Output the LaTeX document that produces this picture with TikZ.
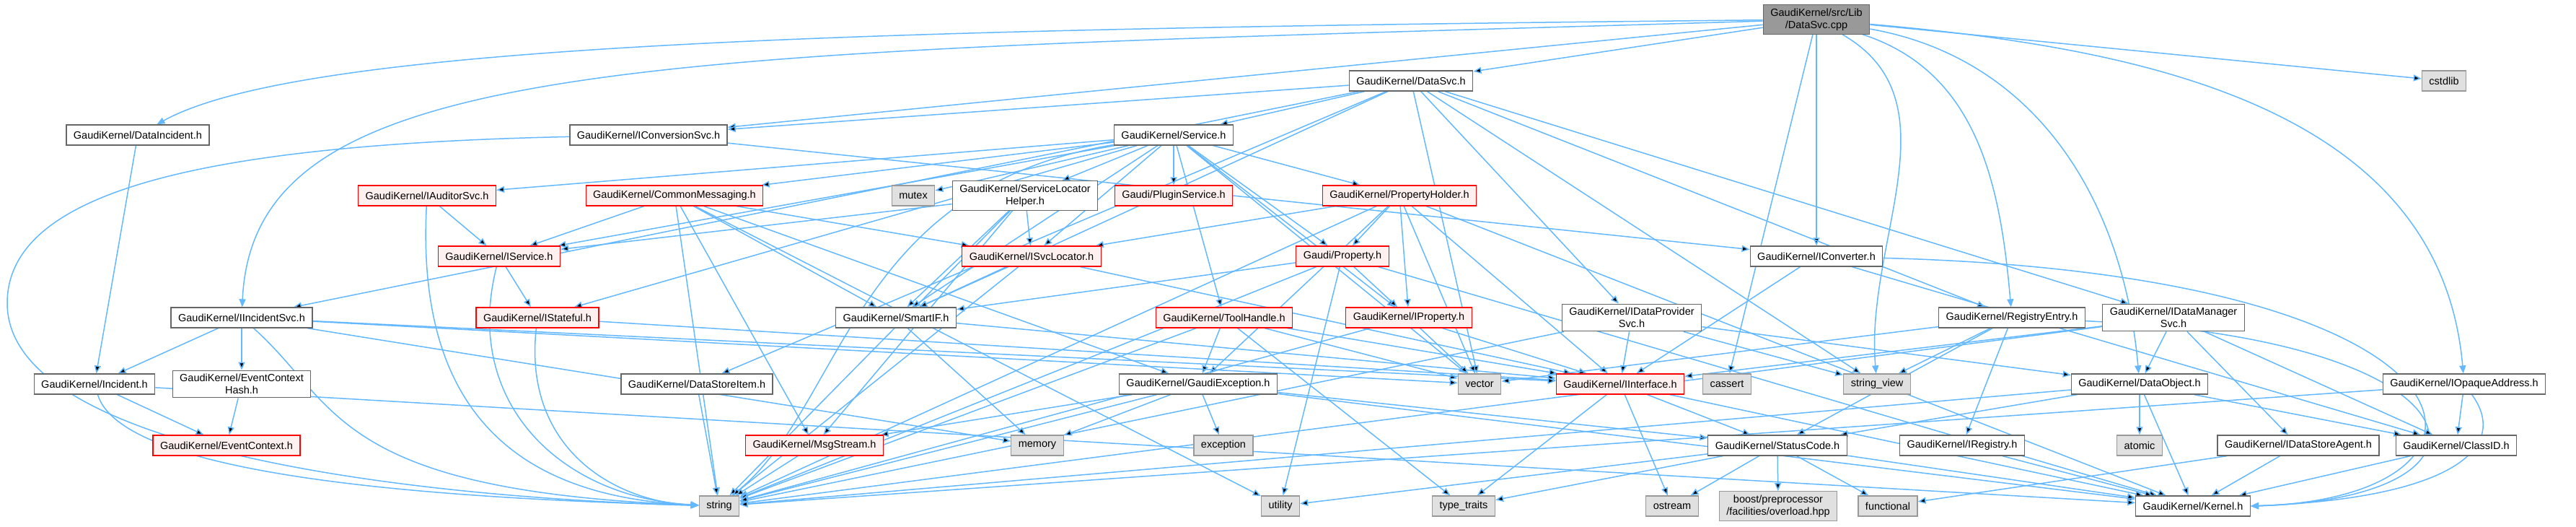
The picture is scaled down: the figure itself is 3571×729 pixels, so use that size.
\documentclass[tikz,border=0pt]{standalone}
\usepackage{fontspec}
\setmainfont{Liberation Sans}
\usepackage{tikz}
\usetikzlibrary{arrows.meta, backgrounds}
\definecolor{edgeblue}{HTML}{63B8FF}
\definecolor{docgray}{HTML}{666666}
\definecolor{sysgray}{HTML}{999999}
\definecolor{sysfill}{HTML}{E0E0E0}
\definecolor{trunkfill}{HTML}{FFF0F0}
\definecolor{rootfill}{HTML}{999999}
\tikzset{
  hfile/.style={draw=docgray, fill=white, line width=1.3pt, inner xsep=10pt, inner ysep=5pt,
                minimum height=28pt, align=center},
  hfilered/.style={hfile, draw=red, fill=trunkfill},
  sysfile/.style={hfile, draw=sysgray, fill=sysfill},
  rootfile/.style={hfile, fill=rootfill},
  dep/.style={draw=edgeblue, line width=1.5pt, -{Triangle[length=11pt,width=9pt]}}
}

\begin{document}
\begin{tikzpicture}[x=1pt, y=-1pt, font=\fontsize{14.5}{17}\selectfont]
            \useasboundingbox (0,0) rectangle (3571,729);

            \node[rootfile] (cpp) at (2518,27) {GaudiKernel/src/Lib\\/DataSvc.cpp};

            \node[hfile] (datasvc) at (1956,112) {GaudiKernel/DataSvc.h};
            \node[sysfile] (cstdlib) at (3388,112) {cstdlib};

            \node[hfile] (dataincident) at (191,187) {GaudiKernel/DataIncident.h};
            \node[hfile] (iconversionsvc) at (899,187) {GaudiKernel/IConversionSvc.h};
            \node[hfile] (service) at (1627,187) {GaudiKernel/Service.h};

            \node[hfilered] (iauditorsvc) at (592,271) {GaudiKernel/IAuditorSvc.h};
            \node[hfilered] (commonmsg) at (935,271) {GaudiKernel/CommonMessaging.h};
            \node[sysfile] (mutex) at (1266,271) {mutex};
            \node[hfile] (slhelper) at (1421,271) {GaudiKernel/ServiceLocator\\Helper.h};
            \node[hfilered] (pluginsvc) at (1627,271) {Gaudi/PluginService.h};
            \node[hfilered] (propholder) at (1940,271) {GaudiKernel/PropertyHolder.h};

            \node[hfilered] (iservice) at (692,355) {GaudiKernel/IService.h};
            \node[hfilered] (isvclocator) at (1430,355) {GaudiKernel/ISvcLocator.h};
            \node[hfilered] (property) at (1861,355) {Gaudi/Property.h};
            \node[hfile] (iconverter) at (2518,355) {GaudiKernel/IConverter.h};

            \node[hfile] (iincidentsvc) at (335,440) {GaudiKernel/IIncidentSvc.h};
            \node[hfilered] (istateful) at (745,440) {GaudiKernel/IStateful.h};
            \node[hfile] (smartif) at (1242,440) {GaudiKernel/SmartIF.h};
            \node[hfilered] (toolhandle) at (1697,440) {GaudiKernel/ToolHandle.h};
            \node[hfilered] (iproperty) at (1953,440) {GaudiKernel/IProperty.h};
            \node[hfile] (idataprovider) at (2262,440) {GaudiKernel/IDataProvider\\Svc.h};
            \node[hfile] (registryentry) at (2789,440) {GaudiKernel/RegistryEntry.h};
            \node[hfile] (idatamanager) at (3013,440) {GaudiKernel/IDataManager\\Svc.h};

            \node[hfile] (incident) at (131,532) {GaudiKernel/Incident.h};
            \node[hfile] (evctxhash) at (335,532) {GaudiKernel/EventContext\\Hash.h};
            \node[hfile] (datastoreitem) at (966,532) {GaudiKernel/DataStoreItem.h};
            \node[hfile] (gaudiexception) at (1661,532) {GaudiKernel/GaudiException.h};
            \node[sysfile] (vector) at (2051,532) {vector};
            \node[hfilered] (iinterface) at (2246,532) {GaudiKernel/IInterface.h};
            \node[sysfile] (cassert) at (2394,532) {cassert};
            \node[sysfile] (stringview) at (2602,532) {string\_view};
            \node[hfile] (dataobject) at (2966,532) {GaudiKernel/DataObject.h};
            \node[hfile] (iopaque) at (3416,532) {GaudiKernel/IOpaqueAddress.h};

            \node[hfilered] (eventcontext) at (314,617) {GaudiKernel/EventContext.h};
            \node[hfilered] (msgstream) at (1129,617) {GaudiKernel/MsgStream.h};
            \node[sysfile] (memory) at (1438,617) {memory};
            \node[sysfile] (exception) at (1696,617) {exception};
            \node[hfile] (statuscode) at (2464,617) {GaudiKernel/StatusCode.h};
            \node[hfile] (iregistry) at (2720,617) {GaudiKernel/IRegistry.h};
            \node[sysfile] (atomic) at (2966,617) {atomic};
            \node[hfile] (idatastoreagent) at (3186,617) {GaudiKernel/IDataStoreAgent.h};
            \node[hfile] (classid) at (3405,617) {GaudiKernel/ClassID.h};

            \node[sysfile] (string) at (997,701) {string};
            \node[sysfile] (utility) at (1775,701) {utility};
            \node[sysfile] (typetraits) at (2029,701) {type\_traits};
            \node[sysfile] (ostream) at (2318,701) {ostream};
            \node[sysfile] (boost) at (2465,701) {boost/preprocessor\\/facilities/overload.hpp};
            \node[sysfile] (functional) at (2617,701) {functional};
            \node[hfile] (kernel) at (3040,701) {GaudiKernel/Kernel.h};

            \begin{pgfonlayer}{background}
            \draw[dep] (cpp) edge (datasvc) edge (cstdlib) edge (iconversionsvc) edge (iconverter)
                edge (cassert);
            \draw[dep] (cpp) .. controls (1200,40) and (420,60) .. (dataincident);
            \draw[dep] (cpp) .. controls (900,75) and (352,70) .. (iincidentsvc);
            \draw[dep] (cpp) to[out=-5, in=95] (iopaque);
            \draw[dep] (cpp) to[out=-10, in=95] (dataobject);
            \draw[dep] (cpp) to[out=-18, in=95] (registryentry);
            \draw[dep] (cpp) to[out=-30, in=95] (stringview);
            \draw[dep] (datasvc) edge (service) edge (iconversionsvc) edge (datastoreitem) edge (idatamanager)
                edge (idataprovider) edge (registryentry) edge (smartif) edge (stringview)
                edge (vector) edge (iincidentsvc);
            \draw[dep] (iconversionsvc) edge (iconverter);
            \draw[dep] (iconversionsvc) .. controls (300,200) and (10,260) .. (10,420)
                .. controls (10,630) and (600,690) .. (string);
            \draw[dep] (service) edge (mutex) edge (slhelper) edge (pluginsvc) edge (commonmsg)
                edge (iauditorsvc) edge (iservice) edge (istateful) edge (propholder) edge (property)
                edge (iproperty) edge (isvclocator) edge (smartif) edge (toolhandle) edge (vector);
            \draw[dep] (service) .. controls (1180,260) and (1170,560) .. (string);
            \draw[dep] (iauditorsvc) edge (iservice);
            \draw[dep] (iauditorsvc) .. controls (575,600) and (750,690) .. (string);
            \draw[dep] (commonmsg) edge (iservice) edge (isvclocator) edge (smartif) edge (msgstream)
                edge (gaudiexception) edge (string) edge (utility);
            \draw[dep] (slhelper) edge (isvclocator) edge (iservice) edge (smartif) edge (msgstream)
                edge (string);
            \draw[dep] (propholder) edge (property) edge (iproperty) edge (gaudiexception) edge (isvclocator)
                edge (iinterface) edge (vector) edge (string) edge (kernel);
            \draw[dep] (property) edge (iproperty) edge (smartif) edge (string) edge (utility) edge (kernel);
            \draw[dep] (iservice) edge (istateful);
            \draw[dep] (iservice) .. controls (640,560) and (780,690) .. (string);
            \draw[dep] (isvclocator) edge (iinterface) edge (smartif) edge (string);
            \draw[dep] (iconverter) edge (iinterface) edge (classid);
            \draw[dep] (iconverter) .. controls (3480,380) and (3510,690) .. (kernel.east);
            \draw[dep] (istateful) edge (iinterface);
            \draw[dep] (istateful) .. controls (725,620) and (850,695) .. (string);
            \draw[dep] (smartif) edge (iinterface) edge (memory);
            \draw[dep] (toolhandle) edge (gaudiexception) edge (iinterface) edge (vector) edge (typetraits)
                edge (string);
            \draw[dep] (iproperty) edge (iinterface) edge (vector) edge (string);
            \draw[dep] (idataprovider) edge (iinterface) edge (dataobject) edge (stringview) edge (string);
            \draw[dep] (registryentry) edge (iregistry) edge (vector) edge (stringview) edge (statuscode);
            \draw[dep] (registryentry) .. controls (3450,470) and (3500,690) .. (kernel.east);
            \draw[dep] (idatamanager) edge (dataobject) edge (idatastoreagent) edge (classid)
                edge (iinterface) edge (string);
            \draw[dep] (iincidentsvc) edge (incident) edge (evctxhash) edge (iinterface) edge (vector)
                edge (memory);
            \draw[dep] (iincidentsvc) .. controls (470,560) and (460,680) .. (string);
            \draw[dep] (incident) edge (eventcontext) edge (kernel);
            \draw[dep] (incident) .. controls (170,660) and (600,690) .. (string);
            \draw[dep] (evctxhash) edge (eventcontext);
            \draw[dep] (dataincident) edge (incident);
            \draw[dep] (datastoreitem) edge (string);
            \draw[dep] (gaudiexception) edge (msgstream) edge (memory) edge (exception) edge (statuscode)
                edge (string) edge (kernel);
            \draw[dep] (msgstream) edge (string);
            \draw[dep] (iinterface) edge (statuscode) edge (ostream) edge (typetraits) edge (kernel);
            \draw[dep] (statuscode) edge (ostream) edge (boost) edge (functional) edge (typetraits)
                edge (utility) edge (kernel);
            \draw[dep] (dataobject) edge (classid) edge (atomic) edge (statuscode) edge (string) edge (kernel);
            \draw[dep] (iopaque) edge (classid) edge (string);
            \draw[dep] (iopaque) .. controls (3480,620) and (3400,690) .. (kernel.east);
            \draw[dep] (iregistry) edge (kernel);
            \draw[dep] (idatastoreagent) edge (kernel) edge (functional);
            \draw[dep] (classid) edge (kernel);
            \end{pgfonlayer}
        \end{tikzpicture}
\end{document}
